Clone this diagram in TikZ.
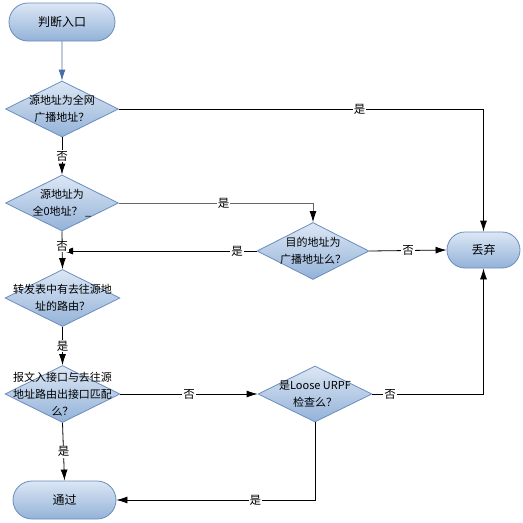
\documentclass[tikz,border=0pt]{standalone}
\usepackage{fontspec}
\setmainfont{Noto Sans CJK SC}
\usetikzlibrary{shapes.geometric,shapes.misc,arrows.meta}
\definecolor{boxtop}{HTML}{DCE7F5}
\definecolor{boxbot}{HTML}{93B2D8}
\definecolor{boxline}{HTML}{6A8DBE}
\definecolor{startarrow}{HTML}{4A6FA5}
\begin{document}
\begin{tikzpicture}[x=1pt,y=-1pt,
  term/.style={rounded rectangle, draw=boxline, line width=0.8pt, top color=boxtop, bottom color=boxbot, minimum height=38pt, inner sep=0pt, font=\fontsize{12}{14}\selectfont},
  dia/.style={diamond, draw=boxline, line width=0.8pt, top color=boxtop, bottom color=boxbot, inner sep=0pt, minimum width=113pt, minimum height=56pt},
  dtext/.style={align=center, font=\fontsize{11}{17}\selectfont, inner sep=0pt},
  flow/.style={draw=black, line width=0.8pt, -{Latex[length=11pt,width=7pt,color=black]}},
  lab/.style={fill=white, inner sep=1pt, font=\fontsize{11.5}{12}\selectfont}
]
\useasboundingbox (0,0) rectangle (523,523);
\fill[white] (0,0) rectangle (523,523);

\node[term, minimum width=106pt] (start) at (62,22) {判断入口};
\node[dia, label={[dtext]center:源地址为全网\\广播地址？}] (d1) at (62,109) {};
\node[dia, label={[dtext]center:源地址为\\全0地址？ \_}] (d2) at (62,203) {};
\node[dia, minimum width=112pt, minimum height=57pt, label={[dtext]center:目的地址为\\广播地址么？}] (d3) at (313,251) {};
\node[term, minimum width=73pt, minimum height=36pt] (drop) at (483.5,250) {丢弃};
\node[dia, minimum width=115pt, minimum height=57pt, label={[dtext]center:转发表中有去往源地\\址的路由？}] (d4) at (62.5,298) {};
\node[dia, minimum width=115pt, minimum height=57pt, label={[dtext]center:报文入接口与去往源\\地址路由出接口匹配\\么？}] (d5) at (62.5,394) {};
\node[dia, minimum width=114pt, minimum height=56pt, label={[dtext]center:是Loose URPF\\检查么？}] (d6) at (315,394) {};
\node[term, minimum width=103pt] (pass) at (64.5,500) {通过};

\coordinate (j) at (62,251);

\draw[flow, draw=startarrow, -{Latex[length=11pt,width=7pt,color=startarrow]}] (start) -- (d1);
\draw[flow] (d1.east) -| node[lab, pos=0.33] {是} (drop.north);
\draw[flow] (d1.south) -- node[lab] {否} (d2.north);
\draw[flow, draw=gray!80!black] (d2.east) -| node[lab, pos=0.27] {是} (d3.north);
\draw[flow] (d3.east) -- node[lab] {否} (drop.west);
\draw[flow] (d3.west) -- node[lab, pos=0.1] {是} (j);
\draw[flow] (d2.south) -- node[lab, pos=0.4] {否} (d4.north);
\draw[flow] (d4.south) -- node[lab] {是} (d5.north);
\draw[flow] (d5.east) -- node[lab] {否} (d6.west);
\draw[flow] (d6.east) -| node[lab, pos=0.08] {否} (drop.south);
\draw[flow] (d6.south) |- node[lab, pos=0.65] {是} (pass.east);
\draw[flow] (d5.south) -- node[lab] {是} (pass.north);
\end{tikzpicture}
\end{document}
